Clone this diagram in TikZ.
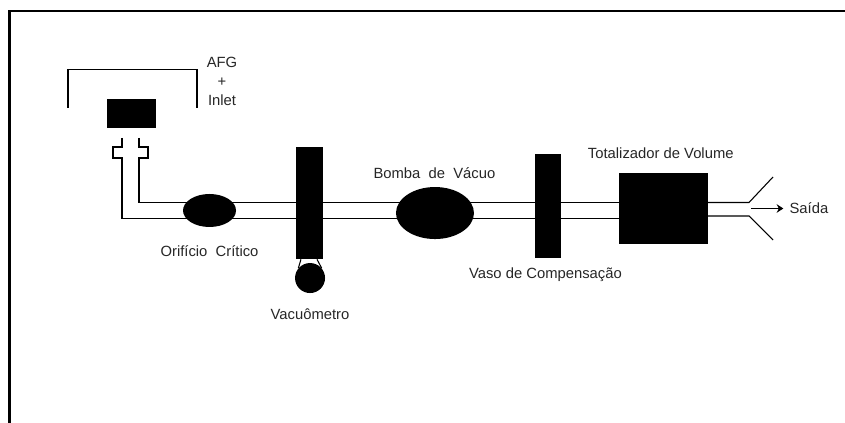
\documentclass[tikz,border=0pt]{standalone}
\usepackage{fontspec}
\setmainfont{Liberation Sans}
\usetikzlibrary{positioning, arrows.meta, shapes.geometric}
\tikzset{
>={Stealth[length=5pt, width=6.5pt]}, % arrow head of the outlet
pipe/.style={line width=0.8pt, draw=black},
block/.style={fill=black, inner sep=0pt}, % filled parts of the line
blob/.style={block, ellipse},
tag/.style={inner sep=0pt, text=black!85, font=\fontsize{11.1}{14.25}\selectfont},
}
\begin{document}
\begin{tikzpicture}[x=0.75pt, y=-0.75pt]
                \useasboundingbox (0,0) rectangle (845,423);
                \coordinate (frameA) at (9.5,423);
                \coordinate (frameB) at (845,11);
                \draw[line width=1.6pt] (frameA) |- (frameB);

                \coordinate (pipeU) at (0,202.5);
                \coordinate (pipeL) at (0,218.5);

                \node[block, minimum width=36.75pt, minimum height=21.75pt] (inlet) at (131.5,113.5) {};
                \node[blob, minimum width=39.75pt, minimum height=24.75pt] (orifice) at (209.5,210.5) {};
                \node[block, right of=orifice, node distance=75pt, yshift=5.6pt, minimum width=20.25pt, minimum height=84pt] (column) {};
                \node[blob, below of=column, node distance=56.25pt, xshift=0.4pt, minimum width=22.5pt, minimum height=22.5pt] (gauge) {};
                \node[blob, right of=column, node distance=94.1pt, yshift=-7.5pt, minimum width=58.5pt, minimum height=39pt] (pump) {};
                \node[block, right of=pump, node distance=84.75pt, yshift=5.25pt, minimum width=19.5pt, minimum height=78pt] (vessel) {};
                \node[block, right of=vessel, node distance=86.6pt, yshift=-1.9pt, minimum width=66.75pt, minimum height=53.25pt] (totalizer) {};

                \node[tag, right of=inlet, node distance=67.9pt, yshift=24.4pt, align=center] (inletTag) {AFG\\+\\Inlet};
                \node[tag, below of=orifice, node distance=30.4pt] (orificeTag) {Orifício\ \ Crítico};
                \node[tag, below of=gauge, node distance=27pt] (gaugeTag) {Vacuômetro};
                \node[tag, above of=pump, node distance=30pt, xshift=-0.4pt] (pumpTag) {Bomba\ \ de\ \ Vácuo};
                \node[tag, below of=vessel, node distance=51.5pt, xshift=-1.9pt] (vesselTag) {Vaso de Compensação};
                \node[tag, above of=totalizer, node distance=41.6pt, xshift=-2pt] (totalizerTag) {Totalizador de Volume};
                \node[tag, right of=totalizer, node distance=109.1pt] (outlet) {Saída};

                % hood over the inlet
                \coordinate (hoodA) at (68,108);
                \coordinate (hoodB) at (197,69.5);
                \coordinate (hoodC) at (197,108);
                \draw[pipe] (hoodA) |- (hoodB) -- (hoodC);

                % the two walls of the pipe, with the collar under the inlet
                \coordinate (wallL) at (122,138);
                \coordinate (wallU) at (139,138);
                \draw[pipe] (wallL) -- ++(0,9) -- ++(-9,0) -- ++(0,11) -- ++(9,0) |- (orifice |- pipeL);
                \draw[pipe] (wallU) -- ++(0,9) -- ++(9,0) -- ++(0,11) -- ++(-9,0) |- (orifice |- pipeU);
                \foreach \from/\to in {orifice/column, column/pump, pump/vessel, vessel/totalizer}{
                    \draw[pipe] (\from |- pipeU) -- (\to |- pipeU);
                    \draw[pipe] (\from |- pipeL) -- (\to |- pipeL);
                }

                % stems of the gauge
                \draw[pipe] ([xshift=-6.4pt]column.south) -- (gauge.140);
                \draw[pipe] ([xshift=5.6pt]column.south) -- (gauge.40);

                % outlet
                \coordinate (exitU) at (749,202.5);
                \coordinate (exitL) at (749,216);
                \coordinate (hornU) at (773,177);
                \coordinate (hornL) at (773,240);
                \coordinate (flow) at (751,208.5);
                \draw[pipe] (totalizer |- exitU) -- (exitU) -- (hornU);
                \draw[pipe] (totalizer |- exitL) -- (exitL) -- (hornL);
                \draw[pipe, ->] (flow) -- ([xshift=-4.5pt]outlet.west |- flow);
                \end{tikzpicture}
\end{document}
